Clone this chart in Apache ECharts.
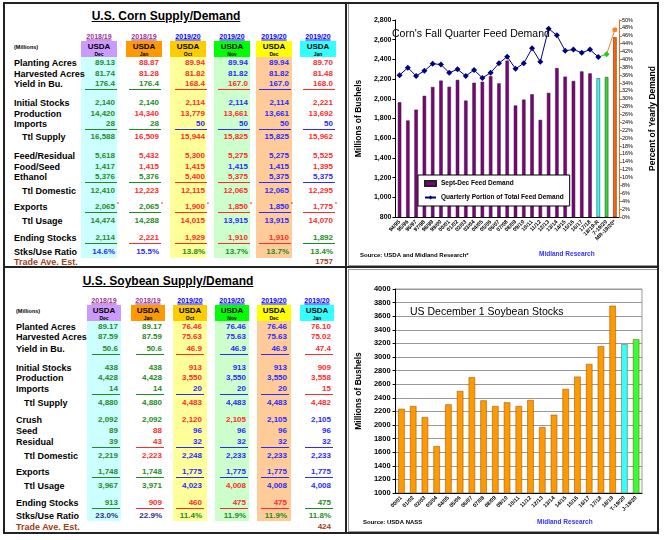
<!DOCTYPE html>
<html>
<head>
<meta charset="utf-8">
<script src="https://cdn.jsdelivr.net/npm/echarts@6/dist/echarts.min.js"></script>
<style>
body{margin:0;background:#fff;font-family:"Liberation Sans",Arial,sans-serif;}
#page{position:relative;width:665px;height:540px;overflow:hidden;background:#fff;}
.t{position:absolute;white-space:nowrap;font-weight:bold;line-height:1;}
.r{position:absolute;box-sizing:border-box;}
#corn,#soy{position:absolute;}
</style>
</head>
<body>
<div id="page">
  <div id="corn" style="left:346px;top:0px;width:319px;height:266px;"></div>
  <div id="soy" style="left:346px;top:268px;width:319px;height:266px;"></div>
</div>
<script>
// ---- table data ----
var colYears = ['2018/19', '2018/19', '2019/20', '2019/20', '2019/20', '2019/20'];
var colMonths = ['Dec', 'Jan', 'Oct', 'Nov', 'Dec', 'Jan'];

var cornLabels = ['Planting Acres', 'Harvested Acres', 'Yield in Bu.', 'Initial Stocks', 'Production', 'Imports', 'Ttl Supply',
    'Feed/Residual', 'Food/Seed', 'Ethanol', 'Ttl Domestic', 'Exports', 'Ttl Usage', 'Ending Stocks', 'Stks/Use Ratio'];
var cornDec18 = ['89.13', '81.74', '176.4', '2,140', '14,420', '28', '16,588', '5,618', '1,417', '5,376', '12,410', '2,065', '14,474', '2,114', '14.6%'];
var cornJan19 = ['88.87', '81.28', '176.4', '2,140', '14,340', '28', '16,509', '5,432', '1,415', '5,376', '12,223', '2,065', '14,288', '2,221', '15.5%'];
var cornOct19 = ['89.94', '81.82', '168.4', '2,114', '13,779', '50', '15,944', '5,300', '1,415', '5,400', '12,115', '1,900', '14,015', '1,929', '13.8%'];
var cornNov19 = ['89.94', '81.82', '167.0', '2,114', '13,661', '50', '15,825', '5,275', '1,415', '5,375', '12,065', '1,850', '13,915', '1,910', '13.7%'];
var cornDec19 = ['89.94', '81.82', '167.0', '2,114', '13,661', '50', '15,825', '5,275', '1,415', '5,375', '12,065', '1,850', '13,915', '1,910', '13.7%'];
var cornJan20 = ['89.70', '81.48', '168.0', '2,221', '13,692', '50', '15,962', '5,525', '1,395', '5,375', '12,295', '1,775', '14,070', '1,892', '13.4%'];
var cornTones = ['ggggggggggggggb', 'rrggrgrrrgrggrb', 'rrrrrbrrrrrrrrg', 'bbrbrbrrbrrrbrg', 'bbbbbbbbbbbbbrg', 'rrrrrbrrrbrrrgg'];
var cornTradeEst = '1757';

var soyLabels = ['Planted Acres', 'Harvested Acres', 'Yield in Bu.', 'Initial Stocks', 'Production', 'Imports', 'Ttl Supply',
    'Crush', 'Seed', 'Residual', 'Ttl Domestic', 'Exports', 'Ttl Usage', 'Ending Stocks', 'Stks/Use Ratio'];
var soyDec18 = ['89.17', '87.59', '50.6', '438', '4,428', '14', '4,880', '2,092', '89', '39', '2,219', '1,748', '3,967', '913', '23.0%'];
var soyJan19 = ['89.17', '87.59', '50.6', '438', '4,428', '14', '4,880', '2,092', '88', '43', '2,223', '1,748', '3,971', '909', '22.9%'];
var soyOct19 = ['76.46', '75.63', '46.9', '913', '3,550', '20', '4,483', '2,120', '96', '32', '2,248', '1,775', '4,023', '460', '11.4%'];
var soyNov19 = ['76.46', '75.63', '46.9', '913', '3,550', '20', '4,483', '2,105', '96', '32', '2,233', '1,775', '4,008', '475', '11.9%'];
var soyDec19 = ['76.46', '75.63', '46.9', '913', '3,550', '20', '4,483', '2,105', '96', '32', '2,233', '1,775', '4,008', '475', '11.9%'];
var soyJan20 = ['76.10', '75.02', '47.4', '909', '3,558', '15', '4,482', '2,105', '96', '32', '2,233', '1,775', '4,008', '475', '11.8%'];
var soyTones = ['ggggggggggggggn', 'ggggggggrrrggrn', 'rrrrrbrrbbbbbrg', 'bbbbbbbrbbbbrrg', 'bbbbbbbbbbbbbrg', 'rrrrrrrbbbbbbgg'];
var soyTradeEst = '424';

// ---- chart data ----
var cornYears = ['94/95', '95/96', '96/97', '97/98', '98/99', '99/00', '00/01', '01/02', '02/03', '03/04', '04/05', '05/06', '06/07',
    '07/08', '08/09', '09/10', '10/11', '11/12', '12/13', '13/14', '14/15', '15/16', '16/17', '17/18', '18/19-R', '7-19/20', 'MR-19/20*'];
var cornFeed = [1965, 1780, 1890, 2030, 2120, 2185, 2122, 2192, 1982, 2163, 2173, 2230, 2157, 2388, 1932, 1992, 2046, 1786,
    2060, 2312, 2225, 2181, 2278, 2258, 2208, 2221, 2624];
var cornShare = [36.0, 37.9, 35.8, 37.1, 38.9, 38.7, 36.6, 37.5, 35.8, 37.3, 35.3, 36.6, 39.0, 40.7, 37.6, 39.0, 42.8, 39.4,
    47.8, 46.1, 42.2, 42.5, 41.7, 42.5, 40.6, 41.3, 47.5];

var soyYears = ['00/01', '01/02', '02/03', '03/04', '04/05', '05/06', '06/07', '07/08', '08/09', '09/10', '10/11', '11/12',
    '12/13', '13/14', '14/15', '15/16', '16/17', '17/18', '18/19', 'T-19/20', 'J-19/20'];
var soyStocks = [2239, 2279, 2116, 1689, 2303, 2500, 2702, 2362, 2279, 2333, 2279, 2367, 1969, 2151, 2530, 2711, 2898, 3159,
    3754, 3188, 3262];

// ---- page drawing helpers ----
var page = document.getElementById('page');
var tone = {g: '#1E8C1E', r: '#FF2B2B', b: '#2B2BFF', n: '#2E2E8C'};

function put(txt, x, y, o) {
    o = o || {};
    var d = document.createElement('div');
    d.className = 't';
    d.textContent = txt;
    d.style.left = x + 'px';
    d.style.top = y + 'px';
    d.style.fontSize = (o.size || 8) + 'px';
    d.style.color = o.color || '#000';
    if (o.underline) d.style.textDecoration = 'underline';
    var tx = o.align === 'right' ? '-100%' : (o.align === 'center' ? '-50%' : '0');
    d.style.transform = 'translate(' + tx + ',-50%)';
    page.appendChild(d);
}
function box(x, y, w, h, bg, border) {
    var d = document.createElement('div');
    d.className = 'r';
    d.style.left = x + 'px';
    d.style.top = y + 'px';
    d.style.width = w + 'px';
    d.style.height = h + 'px';
    if (bg) d.style.background = bg;
    if (border) d.style.border = border;
    page.appendChild(d);
}

var boxColors = ['#CC99FF', '#FF9900', '#FFCC00', '#00FF00', '#FFFF00', '#33FFFF'];
var shadeColors = ['#CCFFFF', null, '#FFFF99', '#CCFFCC', '#FFCC99', null];
var yearColors = ['#993399', '#993399', '#0000FF', '#0000FF', '#0000FF', '#0000FF'];
var underRows = [2, 5, 9, 11, 13];
var indentRows = [6, 10, 12];

function drawTable(t) {
    // column shading
    for (var c = 0; c < 6; c++) {
        if (shadeColors[c]) box(t.lefts[c], t.boxTop, t.colW, t.shadeBottom - t.boxTop, shadeColors[c]);
    }
    put(t.title, t.titleX, t.titleY, {size: 12, align: 'center', underline: true});
    put('(Millions)', t.labelX, t.boxTop + 7, {size: 5.5});
    for (c = 0; c < 6; c++) {
        var cx = t.lefts[c] + t.colW / 2;
        put(colYears[c], cx, t.boxTop - 5, {size: 7, color: yearColors[c], align: 'center', underline: true});
        box(t.lefts[c], t.boxTop, t.colW, 16, boxColors[c]);
        put('USDA', cx, t.boxTop + 5.5, {size: 8, align: 'center'});
        put(colMonths[c], cx, t.boxTop + 12.5, {size: 5, align: 'center'});
    }
    for (var i = 0; i < t.labels.length; i++) {
        var y = t.rowY[i];
        var lx = indentRows.indexOf(i) >= 0 ? t.labelX + 8 : t.labelX;
        put(t.labels[i], lx, y, {size: 9});
        for (c = 0; c < 6; c++) {
            var col = tone[t.tones[c].charAt(i)];
            put(t.cols[c][i], t.rights[c], y, {size: 8, color: col, align: 'right'});
            if (underRows.indexOf(i) >= 0) {
                box(t.rights[c] - t.ulW, y + 5, t.ulW + 2, 1, col);
            }
            if (t.star && i === 11) put('*', t.rights[c] + 2, y - 3, {size: 5, color: '#FF2B2B'});
        }
    }
    put('Trade Ave. Est.', t.labelX, t.tradeY, {size: 9, color: '#A0401A'});
    put(t.trade, t.rights[5], t.tradeY, {size: 8, color: '#A0401A', align: 'right'});
}

drawTable({
    title: 'U.S. Corn Supply/Demand', titleX: 166, titleY: 16, labelX: 14,
    boxTop: 41, shadeBottom: 258, colW: 36,
    lefts: [81, 126, 170, 214, 256, 300], rights: [115, 159, 205, 248, 289, 333], ulW: 30, star: true,
    labels: cornLabels, cols: [cornDec18, cornJan19, cornOct19, cornNov19, cornDec19, cornJan20], tones: cornTones,
    rowY: [63, 74, 84, 103, 114, 124, 137, 156, 167, 177, 191, 207, 221, 238, 252], tradeY: 262, trade: cornTradeEst
});
drawTable({
    title: 'U.S. Soybean Supply/Demand', titleX: 168, titleY: 281, labelX: 16,
    boxTop: 305, shadeBottom: 521, colW: 34,
    lefts: [87, 131, 173, 215, 257, 300], rights: [118, 162, 202, 246, 287, 331], ulW: 26, star: false,
    labels: soyLabels, cols: [soyDec18, soyJan19, soyOct19, soyNov19, soyDec19, soyJan20], tones: soyTones,
    rowY: [327, 337, 349, 368, 378, 389, 403, 420, 431, 442, 456, 472, 486, 503, 516], tradeY: 527, trade: soyTradeEst
});

// frames
box(348, 3, 310, 263, null, '1px solid #999');
box(348, 269, 310, 263, null, '1px solid #999');
box(3, 2, 656, 532, null, '2px solid #222');
box(345, 2, 2, 532, '#222');
box(3, 266, 656, 2, '#222');

// ---- corn chart ----
var cornChart = echarts.init(document.getElementById('corn'));
var lastReal = 24;
cornChart.setOption({
    animation: false,
    textStyle: {fontFamily: 'Liberation Sans'},
    title: {
        text: "Corn's Fall Quarter Feed Demand", left: 46, top: 29, padding: 0,
        textStyle: {fontSize: 10.5, fontWeight: 'normal', color: '#000'}
    },
    legend: {
        orient: 'vertical', left: 72, top: 175, padding: [5, 6, 5, 6], itemGap: 7,
        itemWidth: 11, itemHeight: 5,
        backgroundColor: '#fff', borderColor: '#000', borderWidth: 1,
        textStyle: {fontSize: 6.5, fontWeight: 'bold', color: '#000'},
        data: [
            {name: 'Sept-Dec Feed Demand', icon: 'rect', itemStyle: {color: '#800080'}},
            {name: 'Quarterly Portion of Total Feed Demand'}
        ]
    },
    grid: {left: 41, right: 43, top: 20, bottom: 49},
    xAxis: {
        type: 'category', data: cornYears,
        axisLine: {lineStyle: {color: '#000'}},
        axisTick: {show: false},
        axisLabel: {rotate: 45, interval: 0, fontSize: 5.5, fontWeight: 'bold', color: '#000', margin: 4}
    },
    yAxis: [{
        type: 'value', min: 800, max: 2800, interval: 200,
        name: 'Millions of Bushels', nameLocation: 'middle', nameRotate: 90, nameGap: 27,
        nameTextStyle: {fontSize: 8.5, fontWeight: 'bold', color: '#000'},
        axisLine: {show: true, lineStyle: {color: '#000'}},
        axisTick: {show: true, length: 3},
        splitLine: {show: false},
        axisLabel: {
            fontSize: 7, fontWeight: 'bold', color: '#000', margin: 4,
            formatter: function (v) { return v.toLocaleString('en-US'); }
        }
    }, {
        type: 'value', min: 0, max: 50, interval: 2, position: 'right',
        name: 'Percent of Yearly Demand', nameLocation: 'middle', nameRotate: 90, nameGap: 29,
        nameTextStyle: {fontSize: 8.5, fontWeight: 'bold', color: '#000'},
        axisLine: {show: true, lineStyle: {color: '#E07020'}},
        axisTick: {show: true, length: 3, lineStyle: {color: '#E07020'}},
        splitLine: {show: false},
        axisLabel: {fontSize: 5.5, color: '#000', margin: 3, formatter: '{value}%'}
    }],
    series: [{
        name: 'Sept-Dec Feed Demand', type: 'bar', data: cornFeed, barWidth: '42%',
        itemStyle: {
            color: function (p) {
                if (p.dataIndex === 24) return '#33FFFF';
                if (p.dataIndex === 25) return '#33DD33';
                if (p.dataIndex === 26) return '#FF6600';
                return '#800080';
            },
            borderColor: '#222', borderWidth: 0.5
        }
    }, {
        name: 'Quarterly Portion of Total Feed Demand', type: 'line', yAxisIndex: 1,
        data: cornShare.map(function (v, i) { return i <= lastReal ? v : null; }),
        symbol: 'diamond', symbolSize: 6,
        lineStyle: {color: '#000080', width: 1}, itemStyle: {color: '#000080'}
    }, {
        name: 'now', type: 'line', yAxisIndex: 1,
        data: cornShare.map(function (v, i) { return (i === 24 || i === 25) ? v : null; }),
        symbol: function (v, p) { return p.dataIndex === 25 ? 'diamond' : 'none'; }, symbolSize: 6,
        lineStyle: {color: '#22CC22', width: 1}, itemStyle: {color: '#22CC22'}
    }, {
        name: 'mr', type: 'line', yAxisIndex: 1,
        data: cornShare.map(function (v, i) { return (i === 25 || i === 26) ? v : null; }),
        symbol: function (v, p) { return p.dataIndex === 26 ? 'circle' : 'none'; }, symbolSize: 5,
        lineStyle: {color: '#FF7F27', width: 1}, itemStyle: {color: '#FF7F27'}
    }],
    graphic: [
        {type: 'text', left: 14, top: 252, style: {text: 'Source: USDA and Midland Research*', fontSize: 6, fontWeight: 'bold', fill: '#000'}},
        {type: 'text', left: 193, top: 251, style: {text: 'Midland Research', fontSize: 6.5, fontWeight: 'bold', fill: '#3333FF'}}
    ]
});

// ---- soybean chart ----
var soyChart = echarts.init(document.getElementById('soy'));
soyChart.setOption({
    animation: false,
    textStyle: {fontFamily: 'Liberation Sans'},
    title: {
        text: 'US December 1 Soybean Stocks', left: 64, top: 39, padding: 0,
        textStyle: {fontSize: 10.5, fontWeight: 'normal', color: '#000'}
    },
    grid: {left: 47, right: 23, top: 21, bottom: 41, show: true, borderColor: '#999', borderWidth: 1},
    xAxis: {
        type: 'category', data: soyYears,
        axisLine: {lineStyle: {color: '#000'}},
        axisTick: {show: false},
        axisLabel: {rotate: 45, interval: 0, fontSize: 5.5, fontWeight: 'bold', color: '#000', margin: 4}
    },
    yAxis: {
        type: 'value', min: 1000, max: 4000, interval: 200,
        name: 'Millions of Bushels', nameLocation: 'middle', nameRotate: 90, nameGap: 32,
        nameTextStyle: {fontSize: 8.5, fontWeight: 'bold', color: '#000'},
        axisLine: {show: true, lineStyle: {color: '#000'}},
        axisTick: {show: true, length: 3},
        splitLine: {show: true, lineStyle: {color: '#999'}},
        axisLabel: {
            fontSize: 7.5, fontWeight: 'bold', color: '#000', margin: 5,
            formatter: function (v) { return String(v); }
        }
    },
    series: [{
        name: 'December 1 Stocks', type: 'bar', data: soyStocks, barWidth: '55%',
        itemStyle: {
            color: function (p) {
                if (p.dataIndex === 19) return '#33FFFF';
                if (p.dataIndex === 20) return '#33FF33';
                return '#FF9900';
            },
            borderColor: '#8a4a00', borderWidth: 0.5
        }
    }],
    graphic: [
        {type: 'text', left: 17, top: 251, style: {text: 'Source: USDA NASS', fontSize: 6, fontWeight: 'bold', fill: '#000'}},
        {type: 'text', left: 191, top: 251, style: {text: 'Midland Research', fontSize: 6.5, fontWeight: 'bold', fill: '#3333FF'}}
    ]
});
window.addEventListener('resize', function () {
    cornChart.resize();
    soyChart.resize();
});
</script>
</body>
</html>
